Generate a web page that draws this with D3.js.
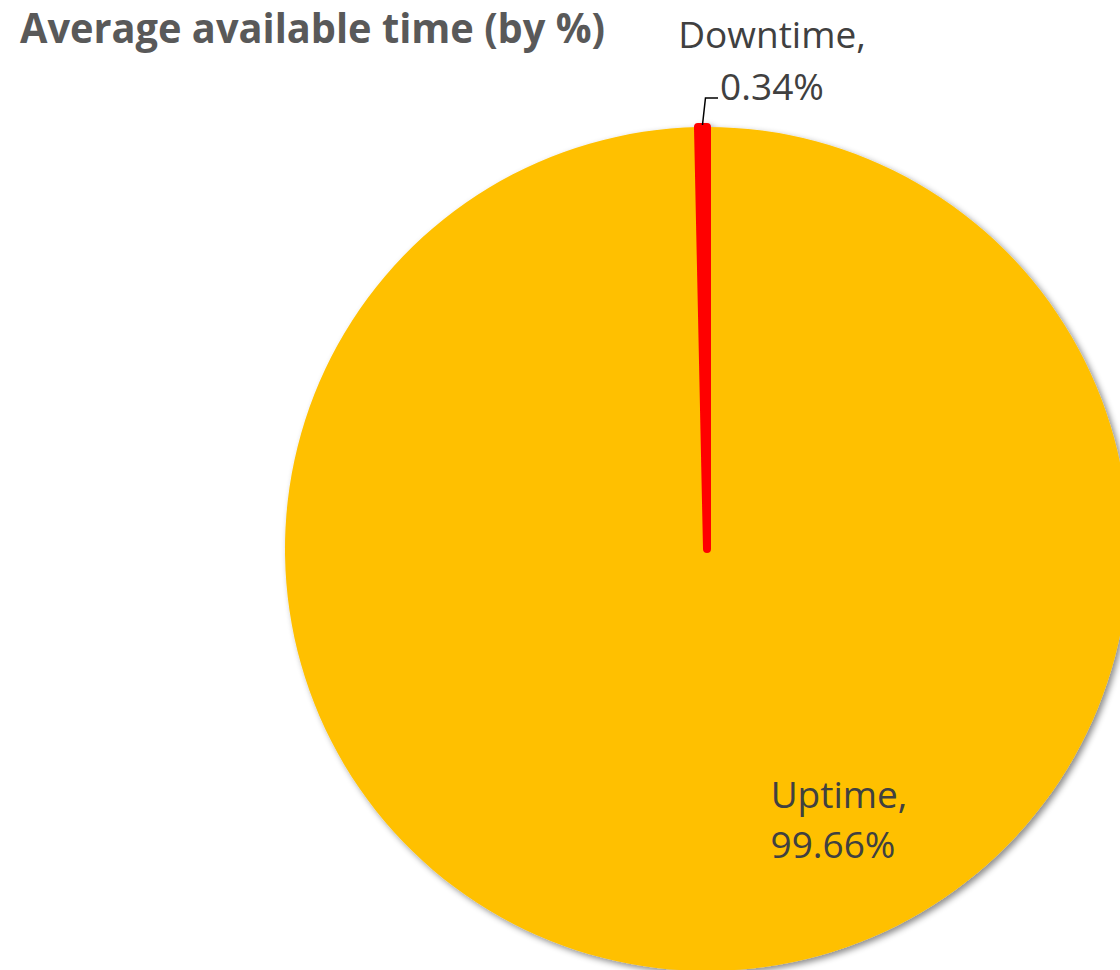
<!DOCTYPE html>
<html><head><meta charset="utf-8">
<script src="https://cdn.jsdelivr.net/npm/d3@7"></script>
<style>body{margin:0;background:#fff;}svg{display:block;}</style>
</head><body>
<svg id="chart" width="1120" height="970"></svg>
<script>
const categories = ["Uptime", "Downtime"];
const values = [99.66, 0.34];
const colors = ["#FFC000", "#FF0000"];
const title = "Average available time (by %)";

const svg = d3.select("#chart");
const defs = svg.append("defs");
const f = defs.append("filter").attr("id","sh").attr("x","-10%").attr("y","-10%").attr("width","130%").attr("height","130%");
f.append("feDropShadow").attr("dx",3).attr("dy",3).attr("stdDeviation",3).attr("flood-color","#000").attr("flood-opacity",0.45);

const cx = 707, cy = 549, r = 422;
const data = categories.map((c,i)=>({cat:c, val:values[i], color:colors[i]}));
const pie = d3.pie().value(d=>d.val).sort(null);
const arcs = pie(data);
const arc = d3.arc().innerRadius(0).outerRadius(r);
const g = svg.append("g").attr("transform",`translate(${cx},${cy})`);
g.append("g").attr("filter","url(#sh)").selectAll("path").data(arcs).join("path")
  .attr("d",arc).attr("fill",d=>d.data.color)
  .attr("stroke",d=>d.data.cat==="Downtime"?d.data.color:"none")
  .attr("stroke-width",d=>d.data.cat==="Downtime"?8:0)
  .attr("stroke-linejoin","round");

svg.append("text").attr("x",20).attr("y",43).text(title)
  .attr("font-family","'Open Sans', sans-serif").attr("font-weight","bold")
  .attr("font-size",41).attr("fill","#595959")
  .attr("textLength",585).attr("lengthAdjust","spacingAndGlyphs");

const lblFont = "'Open Sans', sans-serif";
const dt = arcs[1];
const dtAng = (dt.startAngle+dt.endAngle)/2;
const p0 = [cx + Math.sin(dtAng)*(r+2), cy - Math.cos(dtAng)*(r+2)];
svg.append("path").attr("d",`M${p0[0]},${p0[1]} L${p0[0]+3},${98} L${718},${98}`)
  .attr("fill","none").attr("stroke","#000").attr("stroke-width",1.5);
const lt = svg.append("text").attr("font-family",lblFont).attr("font-size",37).attr("fill","#404040").attr("text-anchor","middle");
lt.append("tspan").attr("x",772).attr("y",48).text(dt.data.cat+",");
lt.append("tspan").attr("x",772).attr("y",100).text(dt.data.val.toFixed(2)+"%");

const ut = arcs[0];
const ul = svg.append("text").attr("font-family",lblFont).attr("font-size",37).attr("fill","#404040").attr("text-anchor","middle");
ul.append("tspan").attr("x",839).attr("y",808).text(ut.data.cat+",");
ul.append("tspan").attr("x",833).attr("y",858).text(ut.data.val.toFixed(2)+"%");
</script>
</body></html>
